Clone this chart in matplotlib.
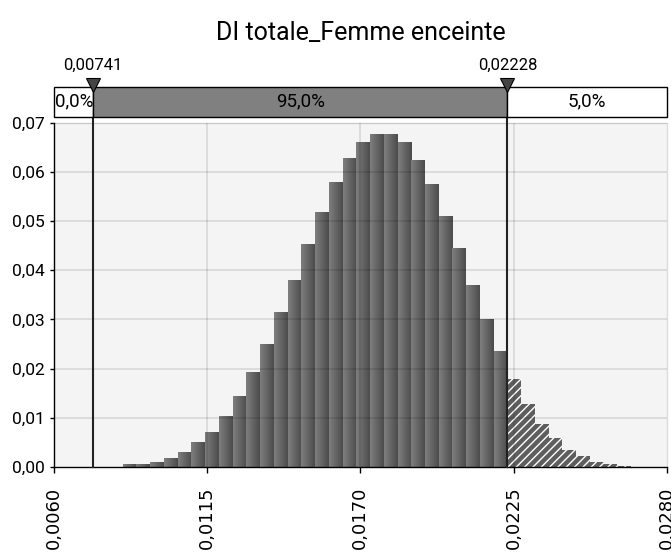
import numpy as np
import matplotlib
matplotlib.use("Agg")
import matplotlib.pyplot as plt
from matplotlib.colors import LinearSegmentedColormap
from matplotlib.transforms import blended_transform_factory

# ---------------- data ----------------
title = "DI totale_Femme enceinte"
bin_start = 0.008476
bin_width = 0.000493
probs = [0.00055, 0.0007, 0.0010, 0.0018, 0.0030, 0.0050, 0.0071, 0.0103,
         0.0144, 0.0193, 0.0250, 0.0315, 0.0380, 0.0453, 0.0518, 0.0580,
         0.0628, 0.0661, 0.0677, 0.0677, 0.0661, 0.0624, 0.0575, 0.0510,
         0.0444, 0.0370, 0.0301, 0.0235, 0.0178, 0.0129, 0.0088, 0.0059,
         0.0034, 0.0022, 0.0010, 0.0006, 0.0002]
p_low, p_high = 0.00741, 0.02228
p_low_label, p_high_label = "0,00741", "0,02228"
seg_labels = ["0,0%", "95,0%", "5,0%"]
x_ticks = [0.0060, 0.0115, 0.0170, 0.0225, 0.0280]
x_tick_labels = ["0,0060", "0,0115", "0,0170", "0,0225", "0,0280"]
y_ticks = [0.00, 0.01, 0.02, 0.03, 0.04, 0.05, 0.06, 0.07]
y_tick_labels = ["0,00", "0,01", "0,02", "0,03", "0,04", "0,05", "0,06", "0,07"]
x_min, x_max = 0.0060, 0.0280
y_min, y_max = 0.0, 0.07

narrow = ['Roboto', 'DejaVu Sans']

W, H = 671, 559
fig = plt.figure(figsize=(W / 100, H / 100), dpi=100)

def fx(px):
    return px / W

def fy(py):
    return 1 - py / H

left_px, right_px = 53.5, 667.0
top_px, bot_px = 122.5, 467.0
ax = fig.add_axes([fx(left_px), fy(bot_px), fx(right_px - left_px), (bot_px - top_px) / H])
ax.set_facecolor('#f4f4f4')

probs = np.asarray(probs)
lefts = bin_start + bin_width * np.arange(len(probs))
hatched = lefts >= p_high - 1e-9

cmap = LinearSegmentedColormap.from_list('barg', ['#7e7e7e', '#4c4c4c'])
grad = np.linspace(0, 1, 32).reshape(1, -1)

bars = ax.bar(lefts[~hatched], probs[~hatched], width=bin_width, align='edge',
              color='#606060', edgecolor='none', linewidth=0, zorder=2)
for b in bars:
    x0, w, h = b.get_x(), b.get_width(), b.get_height()
    im = ax.imshow(grad, cmap=cmap, extent=(x0, x0 + w, 0, h), aspect='auto',
                   interpolation='bilinear', zorder=2.1)
    im.set_clip_path(b)

plt.rcParams['hatch.linewidth'] = 1.0
hb = ax.bar(lefts[hatched], probs[hatched], width=bin_width, align='edge',
            color='#5e5e5e', edgecolor='white', linewidth=0, hatch='////', zorder=2)

ax.set_xlim(x_min, x_max)
ax.set_ylim(y_min, y_max)

# grid over bars (semi transparent)
for yv in y_ticks[1:]:
    ax.axhline(yv, color='black', alpha=0.10, lw=1.4, zorder=3)
for xv in x_ticks[1:-1]:
    ax.axvline(xv, color='black', alpha=0.10, lw=1.4, zorder=3)

for s in ['top', 'right']:
    ax.spines[s].set_color('#dddddd')
    ax.spines[s].set_linewidth(1.0)
for s in ['left', 'bottom']:
    ax.spines[s].set_color('black')
    ax.spines[s].set_linewidth(1.0)
    ax.spines[s].set_zorder(5)

ax.set_xticks(x_ticks)
ax.set_xticklabels(x_tick_labels, rotation=90, fontsize=13, family='DejaVu Sans')
ax.set_yticks(y_ticks)
ax.set_yticklabels(y_tick_labels, fontsize=12.5, family=narrow)
ax.tick_params(axis='x', direction='out', length=4, width=1, pad=10, color='black')
ax.tick_params(axis='y', direction='out', length=3, width=1, pad=3, color='black')

# marker lines
trans = blended_transform_factory(ax.transData, ax.transAxes)
ytop_axes = (bot_px - 91.0) / (bot_px - top_px)
for p in (p_low, p_high):
    ax.plot([p, p], [0, ytop_axes], transform=trans, color='#222222', lw=1.5,
            clip_on=False, zorder=6)

# ---------------- top bar ----------------
bar_top, bar_bot = 86.7, 116.7
bax = fig.add_axes([fx(left_px), fy(bar_bot), fx(right_px - left_px), (bar_bot - bar_top) / H])
bax.set_xlim(x_min, x_max)
bax.set_ylim(0, 1)
bax.axis('off')
segs = [(x_min, p_low, 'white'), (p_low, p_high, '#808080'), (p_high, x_max, 'white')]
for (a, b, c) in segs:
    bax.bar(a, 1, width=b - a, align='edge', color=c, edgecolor='black', linewidth=1.0,
            clip_on=False, zorder=1)
bax.text(x_min + 0.00005, 0.5, seg_labels[0], ha='left', va='center', fontsize=13.5,
         family=narrow)
bax.text((p_low + p_high) / 2, 0.5, seg_labels[1], ha='center', va='center', fontsize=13.5,
         family=narrow)
bax.text((p_high + x_max) / 2, 0.5, seg_labels[2], ha='center', va='center', fontsize=13.5,
         family=narrow)
tri_y = (bar_bot - 85.0) / (bar_bot - bar_top)
lab_y = (bar_bot - 65.0) / (bar_bot - bar_top)
for p, lab in ((p_low, p_low_label), (p_high, p_high_label)):
    bax.plot([p], [tri_y], marker='v', markersize=9.5, color='#444444',
             markeredgecolor='black', markeredgewidth=0.8, clip_on=False, zorder=5)
    bax.text(p, lab_y, lab, ha='center', va='center', fontsize=12, family=narrow)

fig.text(fx(360.5), fy(40), title, ha='center', va='baseline', fontsize=18, family=narrow)

fig.savefig('out.png', dpi=100)
